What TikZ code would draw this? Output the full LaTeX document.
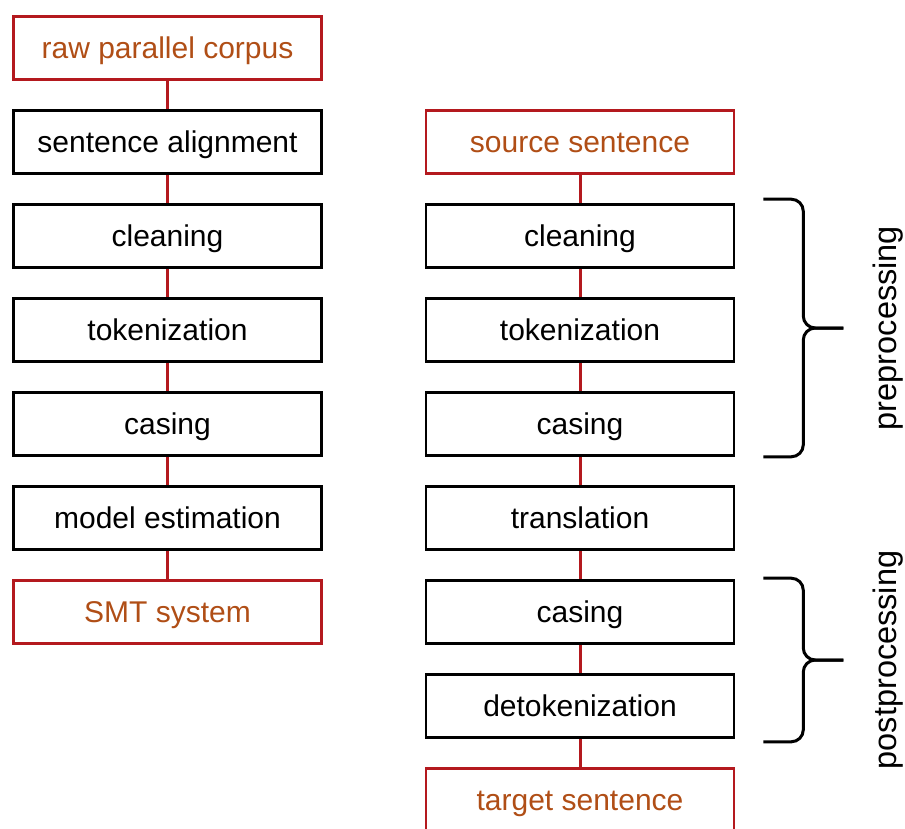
\documentclass[tikz,border=0pt]{standalone}
\usepackage{fontspec}
\setmainfont{Liberation Sans}
\usetikzlibrary{positioning,calc}
\definecolor{smtred}{RGB}{180,25,30}
\definecolor{smttext}{RGB}{176,78,22}
\tikzset{
  base/.style={
    draw, line width=2.6pt, minimum width=308pt, minimum height=63pt,
    inner sep=0pt, font=\fontsize{30}{36}\selectfont,
    text height=21.5pt, text depth=0pt
  },
  stage/.style={base, draw=black, text=black},
  endpoint/.style={base, draw=smtred, text=smttext},
  ln/.style={draw=smtred, line width=3pt},
  bracepen/.style={draw=black, line width=3pt, rounded corners=12pt},
  side/.style={rotate=90, font=\fontsize{32.5}{38}\selectfont},
}

\begin{document}
\begin{tikzpicture}
  \useasboundingbox (0,0) rectangle (905pt,-828pt);

  % ===== training pipeline =====
  \node[endpoint] (raw) at (167.5pt,-48pt) {raw parallel corpus};
  \node[stage, below=28.4pt of raw] (align) {sentence alignment};
  \node[stage, below=28.4pt of align] (lclean) {cleaning};
  \node[stage, below=28.4pt of lclean] (ltok) {tokenization};
  \node[stage, below=28.4pt of ltok] (lcase) {casing};
  \node[stage, below=28.4pt of lcase] (model) {model estimation};
  \node[endpoint, below=28.4pt of model] (smt) {SMT system};

  % ===== translation pipeline, one step lower =====
  \node[endpoint] (src) at (580pt,-142pt) {source sentence};
  \node[stage, below=28.4pt of src] (pclean) {cleaning};
  \node[stage, below=28.4pt of pclean] (ptok) {tokenization};
  \node[stage, below=28.4pt of ptok] (pcase) {casing};
  \node[stage, below=28.4pt of pcase] (trans) {translation};
  \node[stage, below=28.4pt of trans] (recase) {casing};
  \node[stage, below=28.4pt of recase] (detok) {detokenization};
  \node[endpoint, below=28.4pt of detok] (tgt) {target sentence};

  % ===== edges =====
  \draw[ln] (raw) -- (align) (align) -- (lclean) (lclean) -- (ltok)
    (ltok) -- (lcase) (lcase) -- (model) (model) -- (smt);
  \draw[ln] (src) -- (pclean) (pclean) -- (ptok) (ptok) -- (pcase)
    (pcase) -- (trans) (trans) -- (recase) (recase) -- (detok) (detok) -- (tgt);

  % ===== braces =====
  \coordinate (pretop) at ([xshift=28pt,yshift=4pt]pclean.north east);
  \coordinate (prebot) at ([xshift=28pt]pcase.south east);
  \coordinate (pretip) at ($(pretop)!0.5!(prebot)+(80pt,0)$);
  \draw[bracepen] (pretop) -| ($(pretip)+(-40pt,0)$) -- (pretip);
  \draw[bracepen] (prebot) -| ($(pretip)+(-40pt,0)$) -- (pretip);
  \node[side] (pre) at ([xshift=45pt]pretip) {preprocessing};

  \coordinate (posttop) at ([xshift=28pt,yshift=1pt]recase.north east);
  \coordinate (postbot) at ([xshift=28pt,yshift=-3pt]detok.south east);
  \coordinate (posttip) at ($(posttop)!0.5!(postbot)+(80pt,0)$);
  \draw[bracepen] (posttop) -| ($(posttip)+(-40pt,0)$) -- (posttip);
  \draw[bracepen] (postbot) -| ($(posttip)+(-40pt,0)$) -- (posttip);
  \node[side] (post) at ([xshift=45pt]posttip) {postprocessing};

\end{tikzpicture}
\end{document}
